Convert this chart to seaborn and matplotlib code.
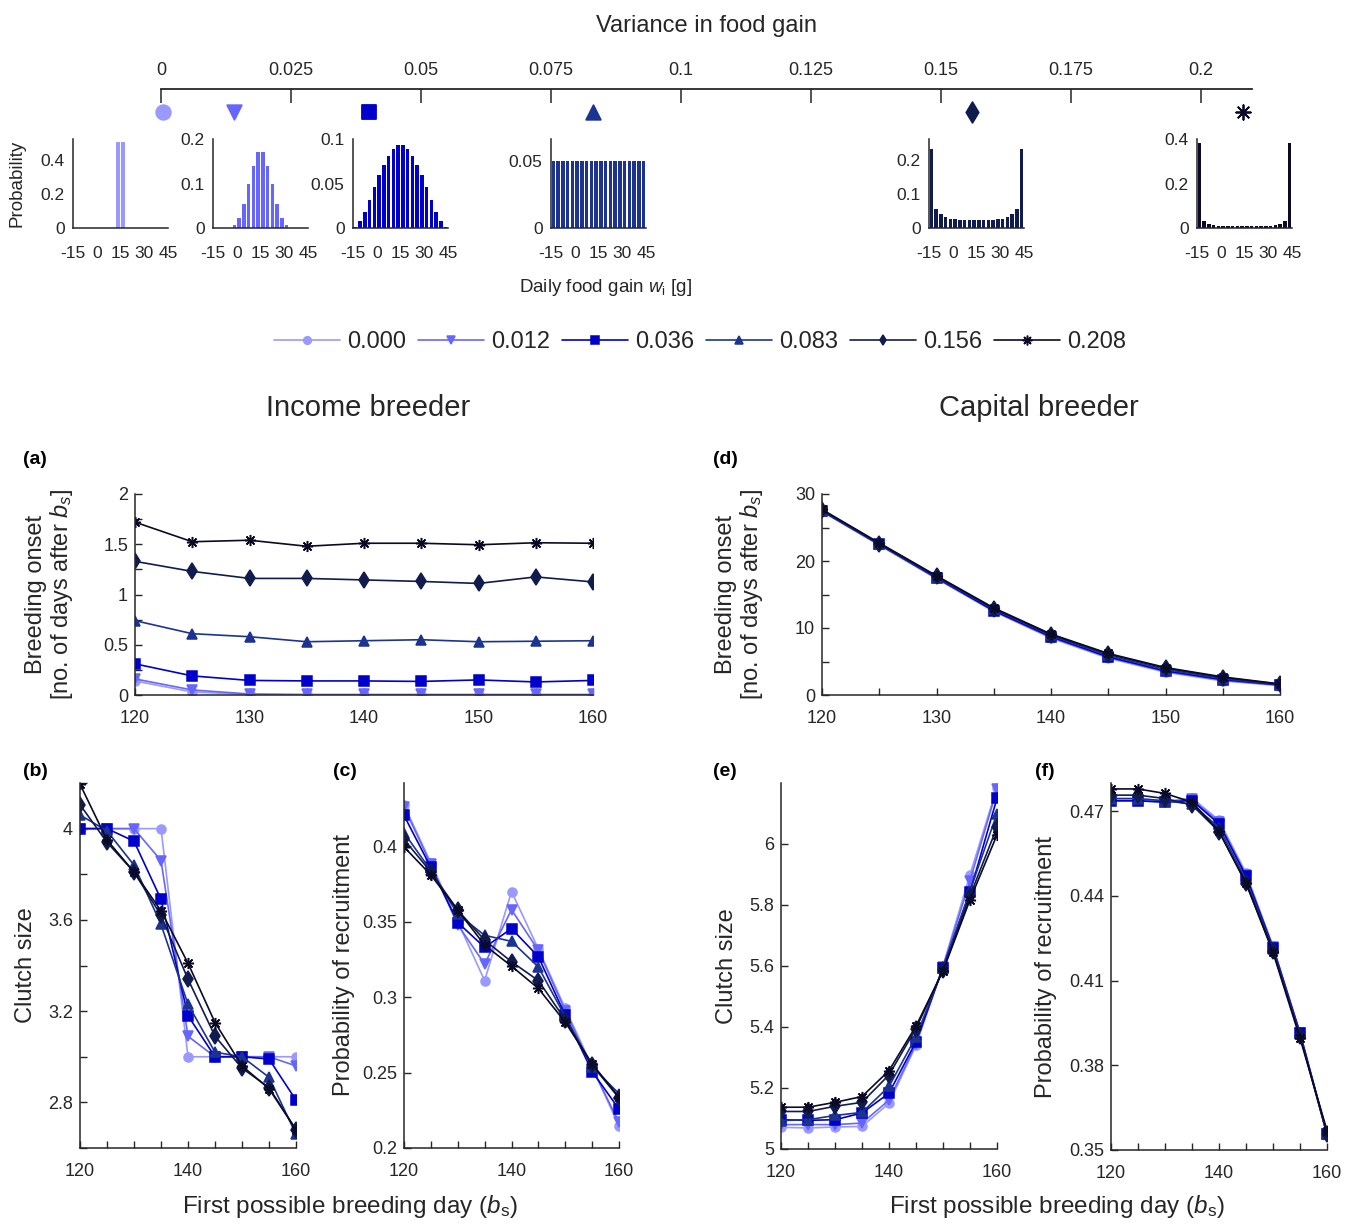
import matplotlib
matplotlib.use("Agg")
import matplotlib.pyplot as plt
from matplotlib.lines import Line2D
import seaborn as sns

# ---- data -------------------------------------------------------------
variance_labels = ['0.000', '0.012', '0.036', '0.083', '0.156', '0.208']
# where each symbol sits on the "Variance in food gain" axis
variance_pos = [0.0004, 0.014, 0.040, 0.083, 0.156, 0.208]
colors = ['#9999ff', '#6666ff', '#0000cc', '#1c3392', '#111c4e', '#0a0a26']
markers = ['o', 'v', 's', '^', 'd', (8, 2, 0)]

# daily food gain bins [g] and their probabilities
food_gain = [-13.5, -10.5, -7.5, -4.5, -1.5, 1.5, 4.5, 7.5, 10.5, 13.5,
             16.5, 19.5, 22.5, 25.5, 28.5, 31.5, 34.5, 37.5, 40.5, 43.5]
prob_000 = [0, 0, 0, 0, 0, 0, 0, 0, 0, 0.5, 0.5, 0, 0, 0, 0, 0, 0, 0, 0, 0]
prob_012 = [0, 0, 0, 0, 0.007, 0.022, 0.055, 0.100, 0.140, 0.170,
            0.170, 0.140, 0.100, 0.055, 0.022, 0.007, 0, 0, 0, 0]
prob_036 = [0.001, 0.008, 0.018, 0.031, 0.046, 0.060, 0.071, 0.081, 0.089, 0.093,
            0.093, 0.089, 0.081, 0.071, 0.060, 0.046, 0.031, 0.018, 0.008, 0.001]
prob_083 = [0.05] * 20
prob_156 = [0.232, 0.056, 0.040, 0.032, 0.027, 0.025, 0.024, 0.023, 0.023, 0.023,
            0.023, 0.023, 0.023, 0.024, 0.025, 0.027, 0.032, 0.040, 0.056, 0.232]
prob_208 = [0.380, 0.030, 0.017, 0.012, 0.009, 0.008, 0.007, 0.007, 0.007, 0.007,
            0.007, 0.007, 0.007, 0.007, 0.008, 0.009, 0.012, 0.017, 0.030, 0.380]
probs = [prob_000, prob_012, prob_036, prob_083, prob_156, prob_208]
hist_ylim = [0.52, 0.2, 0.1, 0.066, 0.26, 0.4]
hist_yticks = [[0, 0.2, 0.4], [0, 0.1, 0.2], [0, 0.05, 0.1], [0, 0.05], [0, 0.1, 0.2], [0, 0.2, 0.4]]

first_day = [120, 125, 130, 135, 140, 145, 150, 155, 160]

# one row per variance level (0.000 ... 0.208)
onset_income = [
    [0.14, 0.03, 0.005, 0.0, 0.0, 0.0, 0.0, 0.0, 0.0],
    [0.16, 0.05, 0.01, 0.005, 0.005, 0.005, 0.005, 0.005, 0.005],
    [0.31, 0.19, 0.145, 0.14, 0.14, 0.135, 0.15, 0.13, 0.145],
    [0.74, 0.61, 0.58, 0.53, 0.54, 0.55, 0.53, 0.535, 0.54],
    [1.33, 1.23, 1.16, 1.16, 1.145, 1.13, 1.11, 1.175, 1.125],
    [1.72, 1.525, 1.54, 1.48, 1.51, 1.51, 1.495, 1.515, 1.51],
]
onset_capital = [
    [27.4, 22.4, 17.4, 12.5, 8.5, 5.5, 3.4, 2.1, 1.4],
    [27.4, 22.4, 17.4, 12.5, 8.6, 5.6, 3.5, 2.2, 1.45],
    [27.5, 22.5, 17.5, 12.6, 8.7, 5.7, 3.6, 2.3, 1.5],
    [27.5, 22.5, 17.6, 12.8, 8.9, 5.9, 3.8, 2.45, 1.55],
    [27.6, 22.6, 17.7, 12.9, 9.0, 6.1, 4.0, 2.6, 1.6],
    [27.7, 22.7, 17.8, 13.0, 9.1, 6.2, 4.1, 2.7, 1.65],
]
clutch_income = [
    [4.0, 4.0, 4.0, 4.0, 3.0, 3.0, 3.0, 3.0, 3.0],
    [4.0, 4.0, 4.0, 3.86, 3.09, 3.0, 3.0, 3.0, 2.96],
    [4.0, 4.0, 3.945, 3.69, 3.18, 3.0, 3.0, 2.99, 2.81],
    [4.06, 3.99, 3.84, 3.58, 3.23, 3.02, 3.0, 2.91, 2.66],
    [4.105, 3.94, 3.81, 3.62, 3.34, 3.09, 2.95, 2.865, 2.68],
    [4.195, 3.95, 3.81, 3.64, 3.41, 3.15, 2.96, 2.86, 2.68],
]
recruit_income = [
    [0.4276, 0.389, 0.350, 0.311, 0.370, 0.332, 0.2926, 0.254, 0.2143],
    [0.426, 0.388, 0.348, 0.322, 0.358, 0.331, 0.291, 0.253, 0.217],
    [0.4205, 0.386, 0.3495, 0.333, 0.3455, 0.3268, 0.288, 0.2507, 0.2258],
    [0.409, 0.384, 0.355, 0.341, 0.337, 0.320, 0.287, 0.254, 0.236],
    [0.4046, 0.383, 0.3577, 0.3378, 0.3235, 0.311, 0.285, 0.255, 0.2331],
    [0.3996, 0.381, 0.3577, 0.3345, 0.3206, 0.3058, 0.2834, 0.2558, 0.2337],
]
clutch_capital = [
    [5.071, 5.069, 5.072, 5.074, 5.15, 5.34, 5.60, 5.90, 6.185],
    [5.08, 5.08, 5.08, 5.085, 5.16, 5.345, 5.598, 5.88, 6.18],
    [5.096, 5.094, 5.096, 5.118, 5.183, 5.352, 5.595, 5.842, 6.15],
    [5.093, 5.096, 5.11, 5.12, 5.205, 5.368, 5.592, 5.847, 6.10],
    [5.123, 5.123, 5.14, 5.153, 5.243, 5.395, 5.586, 5.83, 6.055],
    [5.137, 5.137, 5.153, 5.172, 5.257, 5.403, 5.584, 5.817, 6.03],
]
recruit_capital = [
    [0.4739, 0.4739, 0.4735, 0.4747, 0.4668, 0.4481, 0.4221, 0.3916, 0.3559],
    [0.4737, 0.4737, 0.4733, 0.4742, 0.4662, 0.4475, 0.4219, 0.3915, 0.3558],
    [0.4737, 0.4737, 0.4732, 0.4738, 0.4655, 0.4470, 0.4217, 0.3913, 0.3557],
    [0.4745, 0.4745, 0.4737, 0.4725, 0.4642, 0.4458, 0.4212, 0.3910, 0.3556],
    [0.4757, 0.4757, 0.4745, 0.4722, 0.4628, 0.4445, 0.4205, 0.3905, 0.3555],
    [0.4779, 0.4779, 0.4763, 0.4732, 0.4629, 0.4446, 0.4200, 0.3896, 0.3569],
]

# ---- style ------------------------------------------------------------
sns.set_style('ticks')
plt.rcParams['font.family'] = ['Liberation Sans', 'DejaVu Sans']
plt.rcParams['mathtext.fontset'] = 'custom'
plt.rcParams['mathtext.rm'] = 'Liberation Sans'
plt.rcParams['mathtext.it'] = 'Liberation Sans:italic'
INK = '#262626'
plt.rcParams['axes.edgecolor'] = INK
plt.rcParams['xtick.color'] = INK
plt.rcParams['ytick.color'] = INK
plt.rcParams['text.color'] = INK
plt.rcParams['axes.labelcolor'] = INK

W, H = 1354, 1226
fig = plt.figure(figsize=(W / 100, H / 100), dpi=100)


def add_ax(left, top, right, bottom):
    """Axes placed with pixel coordinates of the target picture."""
    return fig.add_axes([left / W, 1 - bottom / H, (right - left) / W, (bottom - top) / H])


def tidy(ax):
    sns.despine(ax=ax)
    ax.spines['left'].set_linewidth(1.1)
    ax.spines['bottom'].set_linewidth(1.1)
    ax.tick_params(direction='in', length=5, width=1, labelsize=13)
    ax.tick_params(axis='x', pad=11)
    ax.tick_params(axis='y', pad=5)


def fmt(v):
    return ('%g' % v)


# ---- variance axis ------------------------------------------------------
axv = add_ax(161, 89, 1252, 130)
axv.set_xlim(0, 0.2098)
axv.set_ylim(0, 1)
for side in ['left', 'right', 'bottom']:
    axv.spines[side].set_visible(False)
axv.spines['top'].set_linewidth(1.3)
axv.xaxis.set_ticks_position('top')
axv.xaxis.set_label_position('top')
vt = [0, 0.025, 0.05, 0.075, 0.1, 0.125, 0.15, 0.175, 0.2]
axv.set_xticks(vt)
axv.set_xticklabels([fmt(v) for v in vt])
axv.tick_params(axis='x', direction='in', length=10, width=1.1, labelsize=13, pad=7)
axv.set_yticks([])
axv.set_xlabel('Variance in food gain', fontsize=17, labelpad=22)
for pos, col, mk in zip(variance_pos, colors, markers):
    sns.scatterplot(x=[pos], y=[0.44], ax=axv, marker=mk, color=col, s=110,
                    edgecolor=col, linewidth=1.3, legend=False)
for coll in axv.collections:
    coll.set_clip_on(False)
axv.set_facecolor('none')

# ---- histograms --------------------------------------------------------
hist_boxes = [(73, 168), (213, 308), (353, 448), (551, 646), (929, 1024), (1197, 1292)]
for i, (x0, x1) in enumerate(hist_boxes):
    ax = add_ax(x0, 139, x1, 228)
    sns.barplot(x=food_gain, y=probs[i], ax=ax, native_scale=True, color=colors[i],
                saturation=1, width=0.72, errorbar=None, linewidth=0)
    tidy(ax)
    ax.set_xlim(-15, 45)
    ax.set_ylim(0, hist_ylim[i])
    ax.set_xticks([-15, 0, 15, 30, 45])
    ax.set_xticklabels(['-15', '0', '15', '30', '45'])
    ax.set_yticks(hist_yticks[i])
    ax.set_yticklabels([fmt(v) for v in hist_yticks[i]])
    ax.tick_params(length=0, labelsize=12.5)
    ax.tick_params(axis='x', pad=13)
    ax.tick_params(axis='y', pad=6)
    ax.set_xlabel('')
    if i == 0:
        ax.set_ylabel('Probability', fontsize=13.5)
        ax.yaxis.set_label_coords(-0.5, 0.5)

fig.text(605 / W, 1 - 288 / H, r'Daily food gain $w_\mathrm{i}$ [g]', fontsize=13.5,
         ha='center', va='center')

# ---- line panels -------------------------------------------------------
def draw_panel(ax, values, ylim, yticks, ylabels, xlabels_every):
    for v, lab, col, mk in zip(values, variance_labels, colors, markers):
        ms = 8 if mk in ('d', (8, 2, 0)) else 6.5
        sns.lineplot(x=first_day, y=v, ax=ax, color=col, marker=mk, ms=ms,
                     mec=col, mfc=col, mew=1.1, lw=1.2, label=lab, legend=False)
    tidy(ax)
    ax.set_xlim(120, 160)
    ax.set_ylim(*ylim)
    ax.set_xticks(first_day)
    ax.set_xticklabels([str(d) if (d - 120) % xlabels_every == 0 else '' for d in first_day])
    ax.set_yticks(yticks)
    ax.set_yticklabels([fmt(t) if t in ylabels else '' for t in yticks])


ax_a = add_ax(135, 494, 593, 695)
draw_panel(ax_a, onset_income, (0, 2), [0, 0.25, 0.5, 0.75, 1, 1.25, 1.5, 1.75, 2],
           [0, 0.5, 1, 1.5, 2], 10)
ax_a.set_ylabel('Breeding onset\n[no. of days after $b_s$]', fontsize=17, linespacing=1.05)
ax_a.yaxis.set_label_coords(-0.13, 0.5)

ax_d = add_ax(822, 494, 1280, 695)
draw_panel(ax_d, onset_capital, (0, 30), [0, 5, 10, 15, 20, 25, 30], [0, 10, 20, 30], 10)
ax_d.set_ylabel('Breeding onset\n[no. of days after $b_s$]', fontsize=17, linespacing=1.05)
ax_d.yaxis.set_label_coords(-0.125, 0.5)

ax_b = add_ax(80, 783, 296, 1148)
draw_panel(ax_b, clutch_income, (2.6, 4.2), [2.6, 2.8, 3.0, 3.2, 3.4, 3.6, 3.8, 4.0, 4.2],
           [2.8, 3.2, 3.6, 4.0], 20)
ax_b.set_ylabel('Clutch size', fontsize=17)
ax_b.yaxis.set_label_coords(-0.2, 0.5)

ax_c = add_ax(404, 783, 619, 1148)
draw_panel(ax_c, recruit_income, (0.2, 0.442), [0.2, 0.25, 0.3, 0.35, 0.4],
           [0.2, 0.25, 0.3, 0.35, 0.4], 20)
ax_c.set_ylabel('Probability of recruitment', fontsize=17)
ax_c.yaxis.set_label_coords(-0.23, 0.5)

ax_e = add_ax(781, 783, 997, 1149)
draw_panel(ax_e, clutch_capital, (5, 6.2), [5, 5.2, 5.4, 5.6, 5.8, 6.0],
           [5, 5.2, 5.4, 5.6, 5.8, 6.0], 20)
ax_e.set_ylabel('Clutch size', fontsize=17)
ax_e.yaxis.set_label_coords(-0.2, 0.5)

ax_f = add_ax(1111, 783, 1327, 1150)
draw_panel(ax_f, recruit_capital, (0.35, 0.48), [0.35, 0.38, 0.41, 0.44, 0.47],
           [0.35, 0.38, 0.41, 0.44, 0.47], 20)
ax_f.set_ylabel('Probability of recruitment', fontsize=17)
ax_f.yaxis.set_label_coords(-0.25, 0.5)

# ---- shared texts ------------------------------------------------------
fig.text(368 / W, 1 - 408 / H, 'Income breeder', fontsize=21, ha='center', va='center')
fig.text(1039 / W, 1 - 408 / H, 'Capital breeder', fontsize=21, ha='center', va='center')
for lab, x, y in [('(a)', 35, 460), ('(d)', 725, 460), ('(b)', 35, 772),
                  ('(c)', 345, 772), ('(e)', 725, 772), ('(f)', 1045, 772)]:
    fig.text(x / W, 1 - y / H, lab, fontsize=14, fontweight='bold', ha='center', va='center',
             color='black')
for x in (350, 1057):
    fig.text(x / W, 1 - 1207 / H, r'First possible breeding day ($b_\mathrm{s}$)',
             fontsize=17.5, ha='center', va='center')

handles = [Line2D([], [], color=c, marker=m, ms=(7 if m == (8, 2, 0) else 5.5), mec=c, mfc=c,
                  mew=1.1, lw=1.2) for c, m in zip(colors, markers)]
fig.legend(handles, variance_labels, loc='center', bbox_to_anchor=(700 / W, 1 - 342 / H),
           ncol=6, frameon=False, fontsize=17, handlelength=2.8, handletextpad=0.3,
           columnspacing=0.5)

fig.savefig('out.png', dpi=100)
